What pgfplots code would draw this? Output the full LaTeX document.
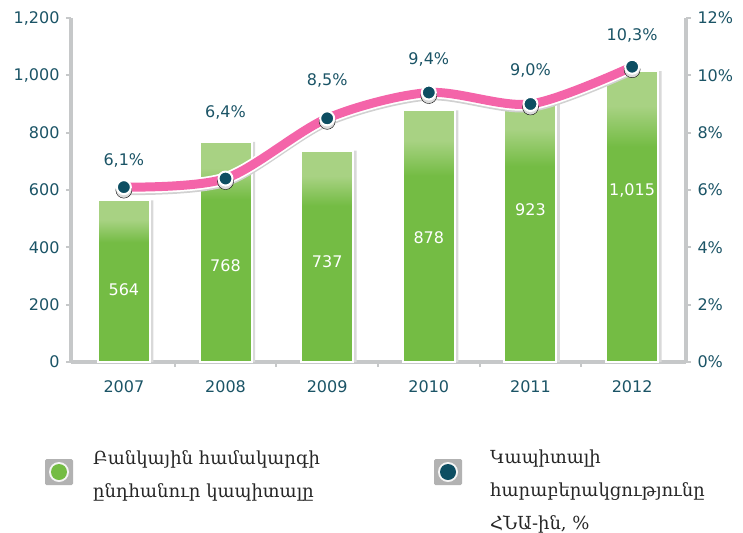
\documentclass[border=0pt]{standalone}
\usepackage{pgfplots}
\pgfplotsset{compat=1.18}
\usepackage{pgfplotstable}
\usepackage{fontspec}
\setmainfont{DejaVu Sans}
\newfontfamily\armfont{DejaVu Serif}
\definecolor{gdark}{HTML}{74BC44}
\definecolor{glight}{HTML}{A8D283}
\definecolor{labteal}{HTML}{1B5466}
\definecolor{pinkl}{HTML}{F464A9}
\definecolor{axgray}{HTML}{C6C8C9}
\definecolor{markc}{HTML}{0D4E62}
\pgfdeclareverticalshading{barshade}{100bp}{color(0bp)=(gdark); color(25bp)=(gdark); color(62bp)=(gdark); color(69bp)=(glight); color(100bp)=(glight)}

\pgfplotstableread{
x val lab ly
0 564 564 251
1 768 768 335
2 737 737 349
3 878 878 433
4 923 923 530
5 1015 1,015 600
}\bardata

\pgfplotstableread{
x pct lab off
0 6.1 6,1 27
1 6.4 6,4 66
2 8.5 8,5 38
3 9.4 9,4 33
4 9.0 9,0 34
5 10.3 10,3 31
}\linedata

\pgfplotsset{
  base/.style={
    at={(71bp,-362bp)}, anchor=south west, scale only axis,
    width=615bp, height=344bp, xmin=-0.52, xmax=5.53,
    axis line style={axgray, line width=3.5bp},
    tick align=outside, major tick length=5bp, minor tick length=5bp,
    tick label style={font=\fontsize{16bp}{18bp}\selectfont, text=labteal},
    /pgf/number format/assume math mode=true,
  }
}

\begin{document}
\begin{tikzpicture}
\useasboundingbox (0,0) rectangle (743bp,-533bp);
\begin{axis}[base, ymin=0, ymax=1200,
  axis x line*=bottom, axis y line*=left,
  xtick={0,...,5}, xticklabels={2007,2008,2009,2010,2011,2012},
  minor xtick={0.5,1.5,2.5,3.5,4.5},
  major x tick style={draw=none},
  minor x tick style={axgray, line width=2bp},
  ytick={0,200,...,1200},
  ytick style={axgray, line width=2bp},
  /pgf/number format/1000 sep={,},
  xticklabel style={yshift=-10bp},
  yticklabel style={xshift=-3bp},
]
\addplot[ybar, bar width=54bp, bar shift=2.5bp, fill=black!15, draw=none] table[x=x,y=val]{\bardata};
\pgfplotsinvokeforeach{0,...,5}{
\addplot[ybar, bar width=52bp, bar shift=0pt, draw=white, line width=2bp, shade, shading=barshade,
  restrict expr to domain={\coordindex}{#1:#1}] table[x=x,y=val]{\bardata};
}
\addplot[draw=none, mark=none, nodes near coords, point meta=explicit symbolic,
  every node near coord/.append style={anchor=center, text=white, font=\fontsize{16bp}{18bp}\selectfont}]
  table[x=x,y=ly,meta=lab]{\bardata};
\end{axis}
\begin{axis}[base, ymin=0, ymax=12,
  axis y line*=right, axis x line=none,
  ytick={0,2,...,12}, yticklabel={\pgfmathprintnumber{\tick}\%},
  ytick style={axgray, line width=2bp},
  yticklabel style={xshift=3bp},
]
\addplot[smooth, draw=black!18, line width=12bp, transform canvas={yshift=-2bp}] table[x=x,y=pct]{\linedata};
\addplot[smooth, draw=white, line width=12.5bp] table[x=x,y=pct]{\linedata};
\addplot[smooth, draw=pinkl, line width=9bp] table[x=x,y=pct]{\linedata};
\addplot[only marks, mark=*, mark size=8bp, mark options={fill=black!14, draw=none}, transform canvas={yshift=-1.5bp}] table[x=x,y=pct]{\linedata};
\addplot[only marks, mark=*, mark size=7bp, mark options={fill=markc, draw=white, line width=2bp},
  nodes near coords={\pgfplotspointmeta\%}, point meta=explicit symbolic,
  visualization depends on={\thisrow{off} \as \myoff},
  every node near coord/.append style={anchor=center, yshift=\myoff bp, text=labteal, font=\fontsize{16bp}{18bp}\selectfont}]
  table[x=x,y=pct,meta=lab]{\linedata};
\end{axis}
% legend
\fill[gray!60, rounded corners=1.5bp] (45bp,-459bp) rectangle (73bp,-485bp);
\fill[white!92!gray] (59bp,-472bp) circle (10bp);
\fill[gdark] (59bp,-472bp) circle (8bp);
\node[anchor=north west, align=left, inner sep=0, font=\armfont\fontsize{18bp}{33bp}\selectfont, text=black!85] at (93bp,-450bp) {Բանկային համակարգի\\ընդհանուր կապիտալը};
\fill[gray!60, rounded corners=1.5bp] (434bp,-459bp) rectangle (462bp,-485bp);
\fill[white!92!gray] (448bp,-472bp) circle (10bp);
\fill[markc] (448bp,-472bp) circle (8bp);
\node[anchor=north west, align=left, inner sep=0, font=\armfont\fontsize{18bp}{33bp}\selectfont, text=black!85] at (490bp,-450bp) {Կապիտալի\\հարաբերակցությունը\\ՀՆԱ-ին, \%};
\end{tikzpicture}
\end{document}
